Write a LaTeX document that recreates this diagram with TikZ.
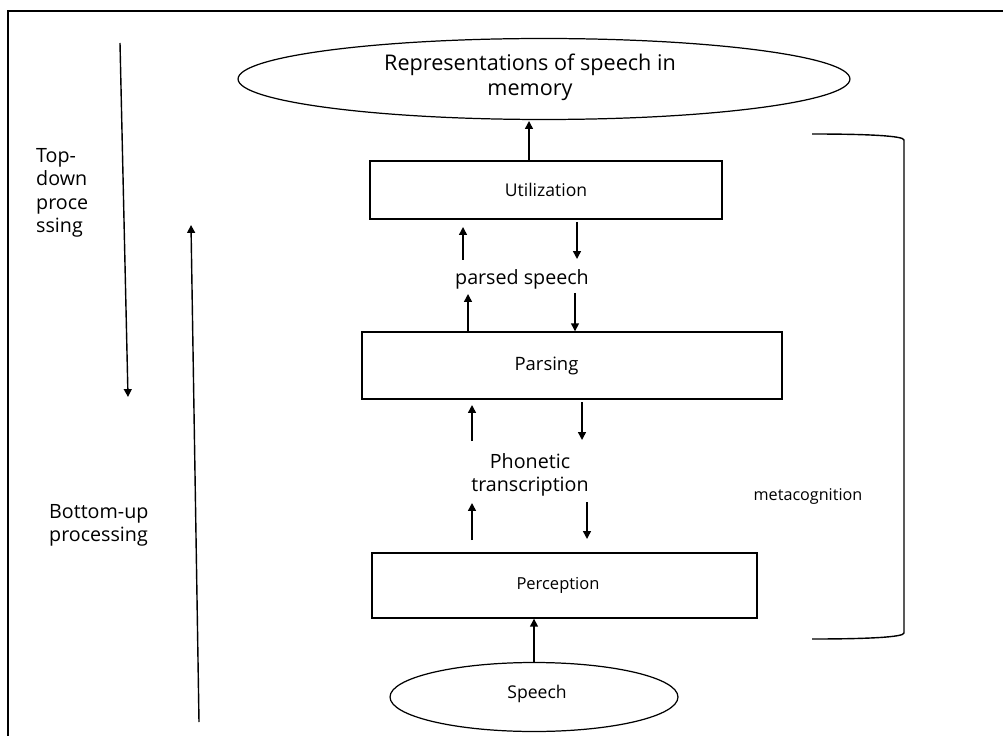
\documentclass[tikz,border=0pt]{standalone}
\usepackage{fontspec}
\setmainfont{Open Sans}
\usetikzlibrary{arrows.meta,shapes.geometric}
\begin{document}
\begin{tikzpicture}[x=0.02cm,y=-0.02cm,
  every node/.style={font=\fontsize{11.2}{13.4}\selectfont},
  box/.style={draw,line width=0.8pt,minimum height=#1,inner sep=0pt,font=\fontsize{10}{12}\selectfont},
  oval/.style={draw,ellipse,line width=0.7pt,inner sep=0pt},
  flow/.style={line width=0.8pt,-{Triangle[length=4.5pt,width=4.5pt]}}]
\useasboundingbox (0,0) rectangle (1003,736);

% frame
\draw[line width=0.8pt] (1003,11) -- (8,11) -- (8,736);

% memory and speech
\node[oval,minimum width=12.24cm,minimum height=1.62cm] (mem) at (544,79) {};
\node[align=center,font=\fontsize{12.3}{14.2}\selectfont] (memtext) at (530,77) {Representations of speech in\\memory};
\node[oval,minimum width=5.76cm,minimum height=1.38cm,font=\fontsize{10}{12}\selectfont] (speech) at (534,697) {};
\node[font=\fontsize{10}{12}\selectfont] (speechtext) at (537,694) {Speech};

% stages
\node[box=1.16cm,minimum width=7.04cm] (util) at (546,190) {Utilization};
\node[box=1.34cm,minimum width=8.40cm,label={[xshift=-0.51cm,font=\fontsize{10.5}{12}\selectfont]center:Parsing}] (pars) at (572,365.5) {};
\node[box=1.30cm,minimum width=7.70cm,label={[xshift=-0.13cm,font=\fontsize{9.4}{12}\selectfont]center:Perception}] (perc) at (564.5,585.5) {};

\node (parsed) at (522,279) {parsed speech};
\node[align=center] (phon) at (530,475) {Phonetic\\transcription};
\node[font=\fontsize{9.2}{12}\selectfont] (meta) at (808,497) {metacognition};

\node[align=left,anchor=north west] (topdown) at (30,142) {Top-\\down\\proce\\ssing};
\node[align=left,anchor=north west] (bottomup) at (43,498) {Bottom-up\\processing};

% arrow ends
\coordinate (a1) at (463,260);
\coordinate (a2) at (577,222);
\coordinate (a3) at (577,259);
\coordinate (a4) at (468,294);
\coordinate (a5) at (472,441);
\coordinate (a6) at (582,402);
\coordinate (a7) at (582,440);
\coordinate (a8) at (472,503);
\coordinate (a9) at (472,540);
\coordinate (a10) at (587,502);
\coordinate (a11) at (587,539);
\coordinate (a12) at (468,332);
\coordinate (a13) at (575,293);
\coordinate (td1) at (120,43);
\coordinate (td2) at (128,397);
\coordinate (bu1) at (199,722);
\coordinate (bu2) at (191,225);

\draw[flow] (util.north -| 529,0) -- (529,121);
\draw[flow] (speech.north) -- (perc.south -| speech.north);

\draw[flow] (a1) -- (463,227);
\draw[flow] (a2) -- (a3);
\draw[flow] (a12) -- (a4);
\draw[flow] (a13) -- (a13 |- pars.north);
\draw[flow] (a5) -- (472,405);
\draw[flow] (a6) -- (a7);
\draw[flow] (a9) -- (a8);
\draw[flow] (a10) -- (a11);

\draw[flow] (td1) -- (td2);
\draw[flow] (bu1) -- (bu2);

% bracket
\draw[line width=0.8pt] (812,134) .. controls (870,134) and (904,136) .. (904,140)
  -- (904,633) .. controls (904,637) and (870,639) .. (812,639);
\end{tikzpicture}
\end{document}
